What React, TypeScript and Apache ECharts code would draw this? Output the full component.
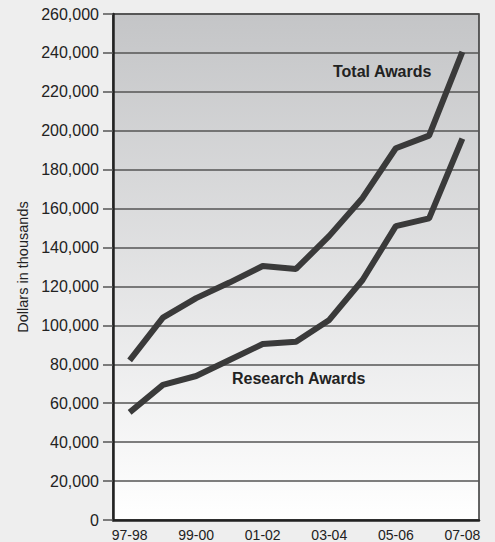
import React, { useEffect, useRef } from "react";
import * as echarts from "echarts";

const categories = ["97-98", "98-99", "99-00", "00-01", "01-02", "02-03", "03-04", "04-05", "05-06", "06-07", "07-08"];
const totalAwards = [82000, 104000, 114000, 122000, 130500, 129000, 146000, 165500, 191000, 197500, 240500];
const researchAwards = [55300, 69400, 74000, 82200, 90400, 91600, 102800, 123300, 151000, 155000, 196000];
const yTicks = { min: 0, max: 260000, interval: 20000 };

const font = "'Liberation Sans', Arial, Helvetica, sans-serif";

export default function App() {
  const ref = useRef<HTMLDivElement>(null);
  useEffect(() => {
    if (!ref.current) return;
    const chart = echarts.init(ref.current, undefined, { renderer: "svg" });
    chart.setOption({
      animation: false,
      backgroundColor: "#eeeeee",
      grid: {
        left: 113,
        right: 16,
        top: 14,
        bottom: 22,
        show: true,
        borderColor: "#333333",
        borderWidth: 1.5,
        backgroundColor: {
          type: "linear",
          x: 0, y: 0, x2: 0, y2: 1,
          colorStops: [
            { offset: 0, color: "#c4c5c7" },
            { offset: 1, color: "#ffffff" },
          ],
        },
      },
      xAxis: {
        type: "category",
        data: categories,
        boundaryGap: true,
        axisLine: { lineStyle: { color: "#222222", width: 2.5 } },
        axisTick: { show: false },
        axisLabel: {
          interval: 1,
          color: "#222222",
          fontSize: 14,
          fontFamily: font,
          margin: 8,
        },
      },
      yAxis: {
        type: "value",
        min: yTicks.min,
        max: yTicks.max,
        interval: yTicks.interval,
        name: "Dollars in thousands",
        nameLocation: "middle",
        nameRotate: 90,
        nameGap: 76,
        nameTextStyle: { color: "#222222", fontSize: 14.5, fontFamily: font },
        axisLine: { show: true, lineStyle: { color: "#222222", width: 2.5 } },
        axisTick: { show: true, length: 10, lineStyle: { color: "#555555", width: 1.5 } },
        axisLabel: {
          color: "#222222",
          fontSize: 16,
          fontFamily: font,
          margin: 14,
          formatter: (v: number) => v.toLocaleString("en-US"),
        },
        splitLine: { show: true, lineStyle: { color: "#555555", width: 1.5 } },
      },
      series: [
        {
          name: "Total Awards",
          type: "line",
          data: totalAwards,
          symbol: "none",
          lineStyle: { color: "#3a3a3a", width: 6 },
        },
        {
          name: "Research Awards",
          type: "line",
          data: researchAwards,
          symbol: "none",
          lineStyle: { color: "#3a3a3a", width: 6 },
        },
      ],
      graphic: [
        {
          type: "text",
          left: 333,
          top: 63,
          style: { text: "Total Awards", fill: "#222222", font: `bold 16px ${font}` },
        },
        {
          type: "text",
          left: 232,
          top: 370,
          style: { text: "Research Awards", fill: "#222222", font: `bold 16px ${font}` },
        },
      ],
    });
    return () => chart.dispose();
  }, []);
  return <div ref={ref} style={{ position: "absolute", left: 0, top: 0, width: 495, height: 542 }} />;
}
